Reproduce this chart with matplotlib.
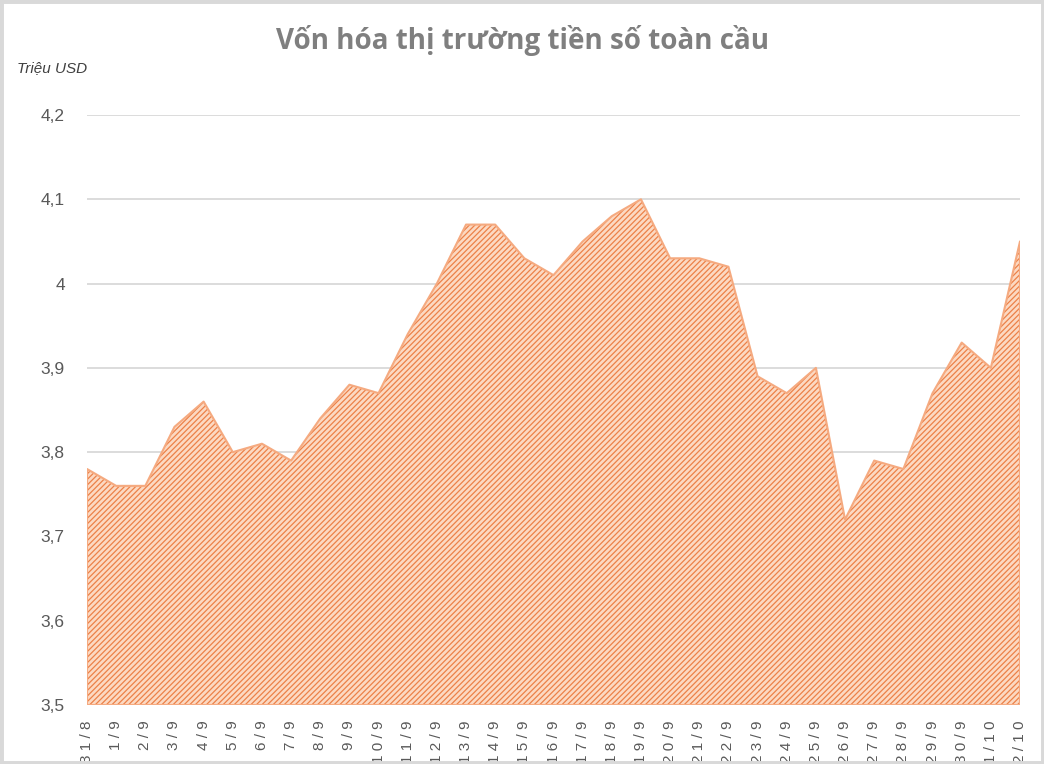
import numpy as np
import matplotlib.pyplot as plt
from matplotlib.patches import Rectangle

plt.rcParams['font.family'] = ['Liberation Sans', 'DejaVu Sans']
plt.rcParams['hatch.linewidth'] = 0.9

dates = ['31/8', '1/9', '2/9', '3/9', '4/9', '5/9', '6/9', '7/9', '8/9', '9/9',
         '10/9', '11/9', '12/9', '13/9', '14/9', '15/9', '16/9', '17/9', '18/9',
         '19/9', '20/9', '21/9', '22/9', '23/9', '24/9', '25/9', '26/9', '27/9',
         '28/9', '29/9', '30/9', '1/10', '2/10']
cap = [3.78, 3.76, 3.76, 3.83, 3.86, 3.80, 3.81, 3.79, 3.84, 3.88,
       3.87, 3.94, 4.00, 4.07, 4.07, 4.03, 4.01, 4.05, 4.08,
       4.10, 4.03, 4.03, 4.02, 3.89, 3.87, 3.90, 3.72, 3.79,
       3.78, 3.87, 3.93, 3.90, 4.05]
yticks = [3.5, 3.6, 3.7, 3.8, 3.9, 4.0, 4.1, 4.2]
ylabels = ['3,5', '3,6', '3,7', '3,8', '3,9', '4', '4,1', '4,2']

fig = plt.figure(figsize=(10.44, 7.64), dpi=100)
ax = fig.add_axes([87/1044, 59/764, 933/1044, 590/764])

x = np.arange(len(dates))
# light base, dense darker hatch on top, soft outline
ax.fill_between(x, 3.5, cap, facecolor='#FCD9C2', linewidth=0, zorder=3)
ax.fill_between(x, 3.5, cap, facecolor='none', edgecolor='#EC8148',
                hatch='//////', linewidth=0, zorder=4)
ax.fill_between(x, 3.5, cap, facecolor='none', edgecolor='#F5AA80',
                linewidth=1.5, zorder=5)

ax.set_xlim(0, len(dates) - 1)
ax.set_ylim(3.5, 4.2)
ax.set_yticks(yticks)
ax.set_yticklabels(ylabels)
ax.set_xticks(x)
ax.set_xticklabels([' '.join(d) for d in dates], rotation=90)
ax.grid(axis='y', color='#D9D9D9', linewidth=1.3, zorder=0)
for s in ax.spines.values():
    s.set_visible(False)
ax.tick_params(axis='both', length=0, colors='#595959', labelsize=12.5)
ax.tick_params(axis='x', labelsize=11, pad=11)
ax.tick_params(axis='y', pad=16)

fig.text(0.5, 0.947, 'Vốn hóa thị trường tiền số toàn cầu', ha='center',
         va='center', fontsize=20, fontweight='bold', color='#7F7F7F',
         family=['Open Sans', 'DejaVu Sans'])
fig.text(17/1044, 1 - 68/764, 'Triệu USD', ha='left', va='center',
         fontsize=11, style='italic', color='#404040')

fig.patches.append(Rectangle((0, 0), 1, 1, transform=fig.transFigure,
                             fill=False, edgecolor='#D9D9D9', linewidth=5))

fig.savefig('out.png', dpi=100)
